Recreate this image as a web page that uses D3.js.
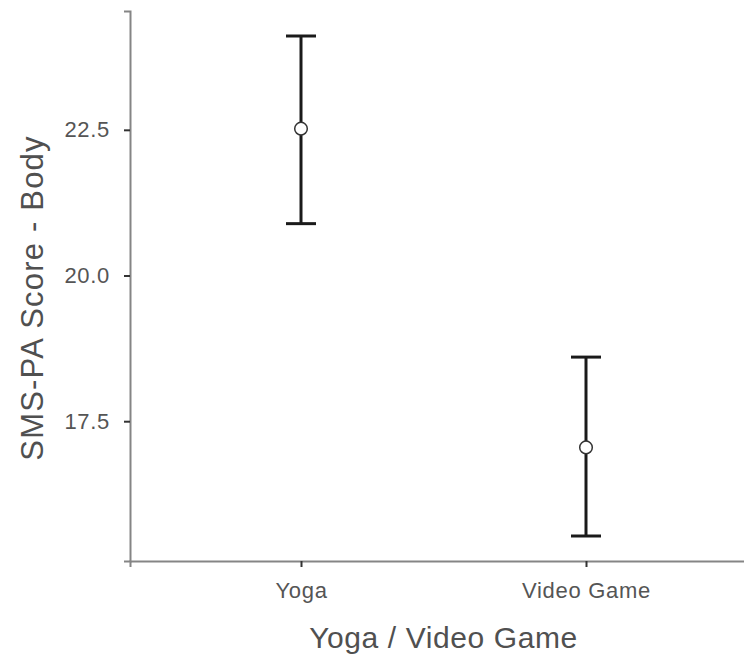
<!DOCTYPE html>
<html>
<head>
<meta charset="utf-8">
<script src="https://cdn.jsdelivr.net/npm/d3@7"></script>
<style>
body{margin:0;background:#fff;}
text{font-family:"Liberation Sans",Arial,sans-serif;}
</style>
</head>
<body>
<div id="wrapper"></div>
<script>
// Data
const groups = ['Yoga', 'Video Game'];
const means = [22.52, 17.05];
const lower = [20.89, 15.53];
const upper = [24.11, 18.60];
const yTicks = [17.5, 20.0, 22.5];

// Dimension
const dimension = {width: 744, height: 660,
    margin: {top: 11, left: 130, bottom: 99, right: -13}};
dimension.boundWidth = dimension.width - dimension.margin.left - dimension.margin.right;
dimension.boundHeight = dimension.height - dimension.margin.top - dimension.margin.bottom;

// Canvas
const svg = d3.select('#wrapper').append('svg')
    .attr('width', dimension.width).attr('height', dimension.height);
const bounds = svg.append('g')
    .attr('transform', `translate(${dimension.margin.left},${dimension.margin.top})`);

// Scales (ggplot style 5% expansion)
const yMin = d3.min(lower), yMax = d3.max(upper);
const pad = (yMax - yMin) * 0.05;
const yScale = d3.scaleLinear().domain([yMin - pad, yMax + pad])
    .range([dimension.boundHeight, 0]);
const xScale = d3.scalePoint().domain(groups)
    .range([0, dimension.boundWidth]).padding(0.6);

// Axes
const axisColor = '#858585';
const yAxis = bounds.append('g').call(d3.axisLeft(yScale).tickValues(yTicks)
    .tickFormat(d3.format('.1f')).tickSizeOuter(0).tickSize(6).tickPadding(14));
const xAxis = bounds.append('g')
    .attr('transform', `translate(0,${dimension.boundHeight})`)
    .call(d3.axisBottom(xScale).tickSizeOuter(0).tickSize(6).tickPadding(15));
[xAxis, yAxis].forEach(a => {
    a.select('.domain').attr('stroke', axisColor).attr('stroke-width', 2);
    a.selectAll('.tick line').attr('stroke', '#333').attr('stroke-width', 2);
    a.selectAll('.tick text').attr('fill', '#555')
        .style('font-size', '22px').style('letter-spacing', '0.7px');
});

// Axis titles
bounds.append('text').text('Yoga / Video Game')
    .attr('x', dimension.boundWidth / 2).attr('y', 648 - dimension.margin.top)
    .attr('text-anchor', 'middle').attr('fill', '#505050')
    .style('font-size', '30px').style('letter-spacing', '0.6px');
bounds.append('text').text('SMS-PA Score - Body')
    .attr('transform', `translate(${43 - dimension.margin.left},${298 - dimension.margin.top}) rotate(-90)`)
    .attr('text-anchor', 'middle').attr('fill', '#505050')
    .style('font-size', '31px').style('letter-spacing', '1.2px');

// Error bars
const capW = 15;
const bars = bounds.append('g').selectAll('g').data(groups).enter().append('g');
bars.append('line')
    .attr('x1', d => xScale(d)).attr('x2', d => xScale(d))
    .attr('y1', (d, i) => yScale(lower[i])).attr('y2', (d, i) => yScale(upper[i]))
    .attr('stroke', '#1a1a1a').attr('stroke-width', 3);
bars.append('line')
    .attr('x1', d => xScale(d) - capW).attr('x2', d => xScale(d) + capW)
    .attr('y1', (d, i) => yScale(upper[i])).attr('y2', (d, i) => yScale(upper[i]))
    .attr('stroke', '#1a1a1a').attr('stroke-width', 3);
bars.append('line')
    .attr('x1', d => xScale(d) - capW).attr('x2', d => xScale(d) + capW)
    .attr('y1', (d, i) => yScale(lower[i])).attr('y2', (d, i) => yScale(lower[i]))
    .attr('stroke', '#1a1a1a').attr('stroke-width', 3);
bars.append('circle')
    .attr('cx', d => xScale(d)).attr('cy', (d, i) => yScale(means[i]))
    .attr('r', 6.3).attr('fill', '#fff').attr('stroke', '#333').attr('stroke-width', 1.5);
</script>
</body>
</html>
